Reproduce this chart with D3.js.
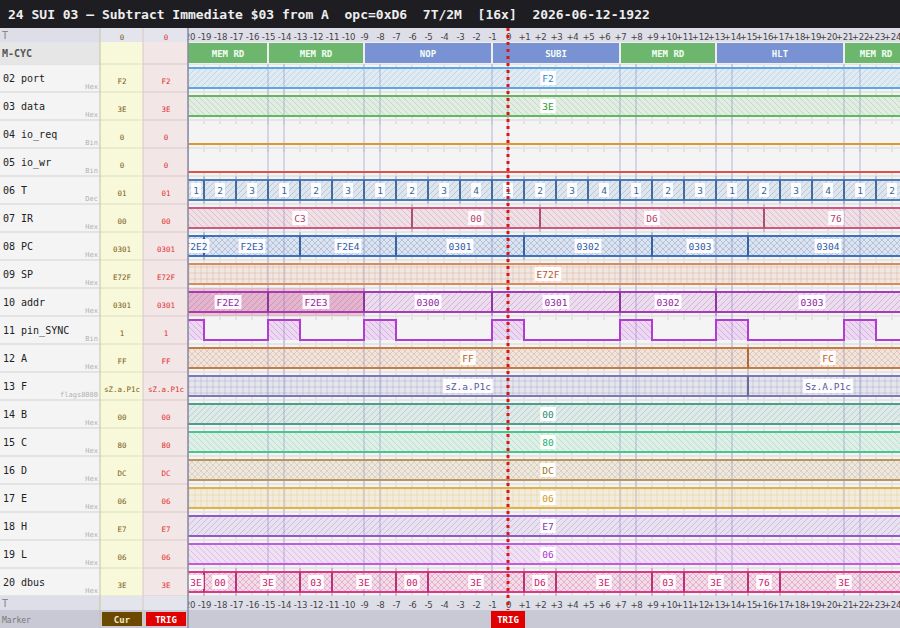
<!DOCTYPE html>
<html>
<head>
<meta charset="utf-8">
<script src="https://cdn.jsdelivr.net/npm/d3@7"></script>
<style>
body { margin: 0; background: #fff; }
svg { display: block; font-family: "DejaVu Sans Mono", monospace; }
</style>
</head>
<body>
<svg id="wave"></svg>
<script>
// ---- data ----
const titleText = '24 SUI 03 \u2014 Subtract Immediate $03 from A  opc=0xD6  7T/2M  [16x]  2026-06-12-1922';
const tickValues = d3.range(-20, 25);
const trigTime = 0;
const curTime = 0;

const mcycStarts = [-21, -15, -9, -1, 7, 13, 21];
const mcycNames = ['MEM RD', 'MEM RD', 'NOP', 'SUBI', 'MEM RD', 'HLT', 'MEM RD'];
const mcycKinds = ['mem', 'mem', 'op', 'op', 'mem', 'op', 'mem'];

const sigNames = ['02 port', '03 data', '04 io_req', '05 io_wr', '06 T', '07 IR', '08 PC', '09 SP', '10 addr',
    '11 pin_SYNC', '12 A', '13 F', '14 B', '15 C', '16 D', '17 E', '18 H', '19 L', '20 dbus'];
const sigFormats = ['Hex', 'Hex', 'Bin', 'Bin', 'Dec', 'Hex', 'Hex', 'Hex', 'Hex', 'Bin', 'Hex', 'flags8080',
    'Hex', 'Hex', 'Hex', 'Hex', 'Hex', 'Hex', 'Hex'];
const curValues = ['F2', '3E', '0', '0', '01', '00', '0301', 'E72F', '0301', '1', 'FF', 'sZ.a.P1c',
    '00', '80', 'DC', '06', 'E7', '06', '3E'];
const trigValues = ['F2', '3E', '0', '0', '01', '00', '0301', 'E72F', '0301', '1', 'FF', 'sZ.a.P1c',
    '00', '80', 'DC', '06', 'E7', '06', '3E'];

// value changes: [time, value]
const portChanges = [[-21, 'F2']];
const dataChanges = [[-21, '3E']];
const ioReqChanges = [[-21, 0]];
const ioWrChanges = [[-21, 0]];
const tStateChanges = [[-21, '1'], [-19, '2'], [-17, '3'], [-15, '1'], [-13, '2'], [-11, '3'], [-9, '1'], [-7, '2'],
    [-5, '3'], [-3, '4'], [-1, '1'], [1, '2'], [3, '3'], [5, '4'], [7, '1'], [9, '2'], [11, '3'], [13, '1'],
    [15, '2'], [17, '3'], [19, '4'], [21, '1'], [23, '2']];
const irChanges = [[-21, 'C3'], [-6, '00'], [2, 'D6'], [16, '76']];
const pcChanges = [[-21, 'F2E2'], [-19, 'F2E3'], [-13, 'F2E4'], [-7, '0301'], [1, '0302'], [9, '0303'], [15, '0304']];
const spChanges = [[-21, 'E72F']];
const addrChanges = [[-21, 'F2E2'], [-15, 'F2E3'], [-9, '0300'], [-1, '0301'], [7, '0302'], [13, '0303']];
const syncChanges = [[-21, 1], [-19, 0], [-15, 1], [-13, 0], [-9, 1], [-7, 0], [-1, 1], [1, 0], [7, 1], [9, 0],
    [13, 1], [15, 0], [21, 1], [23, 0]];
const aChanges = [[-21, 'FF'], [15, 'FC']];
const fChanges = [[-21, 'sZ.a.P1c'], [15, 'Sz.A.P1c']];
const bChanges = [[-21, '00']];
const cChanges = [[-21, '80']];
const dChanges = [[-21, 'DC']];
const eChanges = [[-21, '06']];
const hChanges = [[-21, 'E7']];
const lChanges = [[-21, '06']];
const dbusChanges = [[-21, '3E'], [-19, '00'], [-17, '3E'], [-13, '03'], [-11, '3E'], [-7, '00'], [-5, '3E'],
    [1, 'D6'], [3, '3E'], [9, '03'], [11, '3E'], [15, '76'], [17, '3E']];
const addrHighlight = [-21, -9];

const sigChanges = [portChanges, dataChanges, ioReqChanges, ioWrChanges, tStateChanges, irChanges, pcChanges,
    spChanges, addrChanges, syncChanges, aChanges, fChanges, bChanges, cChanges, dChanges, eChanges,
    hChanges, lChanges, dbusChanges];

// ---- styles ----
const sigColors = ['#5ea8e2', '#62b862', '#e0962e', '#d9534f', '#4d7cb6', '#c85a84', '#4271bb', '#d48c60',
    '#a53cb6', '#b33ad2', '#c87a46', '#7c7ab2', '#4e9c8a', '#48c68c', '#b8965c', '#e0b24c', '#9358c8',
    '#c45ae2', '#d8398a'];
const sigTextColors = ['#2f86d0', '#2a9a2a', '#c07010', '#c03030', '#3a5f96', '#b0406c', '#2f5aa8', '#b0561e',
    '#8f1fa0', '#9a20b8', '#c05c1c', '#5a58a0', '#2e8a74', '#22b070', '#a07420', '#d09a20', '#7a36b8',
    '#b030d4', '#c81a70'];
const sigHatch = ['/', '\\', '', '', '/', '\\', 'x', '+', '/', '\\', 'x', '+', '/', '\\', 'x', '+', '/', '\\', 'x'];

class WaveView {
    constructor(_config) {
        this.config = {
            parentElement: _config.parentElement,
            width: _config.width || 900,
            height: _config.height || 628,
            plotLeft: 188,
            rowTop: 64,
            rowH: 28
        };
        this.initView();
    }

    initView() {
        let vis = this;
        const c = vis.config;
        vis.svg = d3.select(c.parentElement).attr('width', c.width).attr('height', c.height);
        vis.x = d3.scaleLinear().domain([-20, 25]).range([c.plotLeft, c.plotLeft + 45 * 16]);
        vis.defs = vis.svg.append('defs');
        vis.defs.append('clipPath').attr('id', 'plotclip')
            .append('rect').attr('x', c.plotLeft).attr('y', 0).attr('width', c.width - c.plotLeft).attr('height', c.height);
        vis.rowY = i => c.rowTop + i * c.rowH;
        vis.bottomY = vis.rowY(sigNames.length);
    }

    segments(changes) {
        let vis = this;
        const end = vis.x.domain()[1];
        return changes.map((d, i) => ({
            t0: d[0],
            t1: i < changes.length - 1 ? changes[i + 1][0] : end,
            v: d[1]
        }));
    }

    makePattern(i) {
        let vis = this;
        const kind = sigHatch[i];
        const col = sigColors[i];
        const id = 'hatch' + i;
        const s = 6;
        const p = vis.defs.append('pattern').attr('id', id).attr('patternUnits', 'userSpaceOnUse')
            .attr('width', s).attr('height', s);
        let d = '';
        if (kind === '/' || kind === 'x') d += `M0,${s} L${s},0 M-1,1 L1,-1 M${s - 1},${s + 1} L${s + 1},${s - 1} `;
        if (kind === '\\' || kind === 'x') d += `M0,0 L${s},${s} M-1,${s - 1} L1,${s + 1} M${s - 1},-1 L${s + 1},1 `;
        if (kind === '+') d += `M${s / 2},0 V${s} M0,${s / 2} H${s}`;
        p.append('path').attr('d', d).attr('stroke', col).attr('stroke-width', 0.8).attr('stroke-opacity', 0.35).attr('fill', 'none');
        return `url(#${id})`;
    }

    render() {
        let vis = this;
        const c = vis.config;
        const x = vis.x;
        const svg = vis.svg;
        const n = sigNames.length;

        // title bar
        svg.append('rect').attr('width', c.width).attr('height', 28).attr('fill', '#1d1d22');
        svg.append('text').attr('x', 8).attr('y', 19).attr('fill', '#eeeeee')
            .style('font-size', '13px').style('font-weight', 'bold').style('white-space', 'pre')
            .text(titleText);

        // column backgrounds
        const cols = [
            { x0: 0, x1: 100, bg: '#f4f4f4', sep: '#e3e3e3' },
            { x0: 100, x1: 143, bg: '#f8f8da', sep: '#ebebcd' },
            { x0: 143, x1: c.plotLeft, bg: '#f3e6e6', sep: '#e6d8d8' },
            { x0: c.plotLeft, x1: c.width, bg: '#f4f4f4', sep: '#e5e5e5' }
        ];
        cols.forEach(col => {
            svg.append('rect').attr('x', col.x0).attr('y', 42).attr('width', col.x1 - col.x0)
                .attr('height', vis.bottomY - 42).attr('fill', col.bg);
            svg.append('g').selectAll('line').data(d3.range(n + 1)).join('line')
                .attr('x1', col.x0).attr('x2', col.x1)
                .attr('y1', i => vis.rowY(i)).attr('y2', i => vis.rowY(i))
                .attr('stroke', col.sep).attr('stroke-width', 2);
        });
        svg.append('rect').attr('x', 0).attr('y', 42).attr('width', 100).attr('height', 22).attr('fill', '#e6e6e6');
        svg.append('rect').attr('x', c.plotLeft).attr('y', 42).attr('width', c.width - c.plotLeft).attr('height', 22).attr('fill', '#eeeeee');

        // header / footer time rows
        [28, vis.bottomY].forEach(yy => {
            svg.append('rect').attr('x', 0).attr('y', yy).attr('width', c.width).attr('height', 14).attr('fill', '#dedee8');
            svg.append('rect').attr('x', 100).attr('y', yy).attr('width', 88).attr('height', 14).attr('fill', '#e4e4ec');
            svg.append('text').attr('x', 2).attr('y', yy + 11).attr('fill', '#888').style('font-size', '10px').text('T');
        });
        svg.append('text').attr('x', 122).attr('y', 40).attr('text-anchor', 'middle').attr('fill', '#7a5c14')
            .style('font-size', '7.5px').text(curTime);
        svg.append('text').attr('x', 166).attr('y', 40).attr('text-anchor', 'middle').attr('fill', '#e03030')
            .style('font-size', '7.5px').text(trigTime);

        // marker row
        const my = vis.bottomY + 14;
        svg.append('rect').attr('x', 0).attr('y', my).attr('width', c.width).attr('height', c.height - my).attr('fill', '#c9c9d6');
        svg.append('text').attr('x', 2).attr('y', my + 13).attr('fill', '#777').style('font-size', '8px').text('Marker');
        svg.append('rect').attr('x', 102).attr('y', my + 2).attr('width', 40).attr('height', 14).attr('fill', '#6b4a00');
        svg.append('text').attr('x', 122).attr('y', my + 13).attr('text-anchor', 'middle').attr('fill', '#f4e8c8')
            .style('font-size', '9px').style('font-weight', 'bold').text('Cur');
        svg.append('rect').attr('x', 146).attr('y', my + 2).attr('width', 40).attr('height', 14).attr('fill', '#e00000');
        svg.append('text').attr('x', 166).attr('y', my + 13).attr('text-anchor', 'middle').attr('fill', '#fff')
            .style('font-size', '9px').style('font-weight', 'bold').text('TRIG');

        // names, formats, values
        svg.append('text').attr('x', 2).attr('y', 57).attr('fill', '#555').style('font-size', '10px')
            .style('font-weight', 'bold').text('M-CYC');
        const lab = svg.append('g');
        lab.selectAll('text.name').data(sigNames).join('text').attr('class', 'name')
            .attr('x', 3).attr('y', (d, i) => vis.rowY(i) + 18).attr('fill', '#222').style('font-size', '10px').text(d => d);
        lab.selectAll('text.fmt').data(sigFormats).join('text').attr('class', 'fmt')
            .attr('x', 98).attr('y', (d, i) => vis.rowY(i) + 25).attr('text-anchor', 'end').attr('fill', '#b0b0b0')
            .style('font-size', '7px').text(d => d);
        lab.selectAll('text.cur').data(curValues).join('text').attr('class', 'cur')
            .attr('x', 122).attr('y', (d, i) => vis.rowY(i) + 20).attr('text-anchor', 'middle').attr('fill', '#7a5c14')
            .style('font-size', '7.5px').text(d => d);
        lab.selectAll('text.trig').data(trigValues).join('text').attr('class', 'trig')
            .attr('x', 166).attr('y', (d, i) => vis.rowY(i) + 20).attr('text-anchor', 'middle').attr('fill', '#e03030')
            .style('font-size', '7.5px').text(d => d);

        // plot area
        const plot = svg.append('g').attr('clip-path', 'url(#plotclip)');

        // tick marks at each row edge
        const tickG = plot.append('g');
        d3.range(n).forEach(i => {
            const y0 = vis.rowY(i);
            tickG.append('g').selectAll('line').data(tickValues).join('line')
                .attr('x1', d => x(d)).attr('x2', d => x(d)).attr('y1', y0 + 1).attr('y2', y0 + 4)
                .attr('stroke', '#d2d2d2');
            tickG.append('g').selectAll('line').data(tickValues).join('line')
                .attr('x1', d => x(d)).attr('x2', d => x(d)).attr('y1', y0 + 24).attr('y2', y0 + 27)
                .attr('stroke', '#d2d2d2');
        });

        // M-cycle boxes
        const mseg = mcycStarts.map((t, i) => ({
            t0: t, t1: i < mcycStarts.length - 1 ? mcycStarts[i + 1] : x.domain()[1], name: mcycNames[i], kind: mcycKinds[i]
        }));
        plot.append('g').selectAll('rect').data(mseg).join('rect')
            .attr('x', d => x(d.t0) + 1).attr('width', d => x(d.t1) - x(d.t0) - 2)
            .attr('y', 43).attr('height', 20)
            .attr('fill', d => d.kind === 'mem' ? '#6db66d' : '#7892d4');
        plot.append('g').selectAll('text').data(mseg).join('text')
            .attr('x', d => (Math.max(x(d.t0), c.plotLeft) + x(d.t1)) / 2).attr('y', 56.5)
            .attr('text-anchor', 'middle').attr('fill', '#f4fff4')
            .style('font-size', '9px').style('font-weight', 'bold').text(d => d.name);

        // M-cycle boundary lines
        const bounds = mcycStarts.flatMap(t => [t, t + 1]);
        plot.append('g').selectAll('line').data(bounds).join('line')
            .attr('x1', d => x(d)).attr('x2', d => x(d)).attr('y1', c.rowTop).attr('y2', vis.bottomY)
            .attr('stroke', '#8080d0').attr('stroke-opacity', 0.28).attr('stroke-width', 2);

        // addr highlight
        const ai = sigNames.indexOf('10 addr');
        plot.append('rect').attr('x', x(addrHighlight[0])).attr('width', x(addrHighlight[1]) - x(addrHighlight[0]))
            .attr('y', vis.rowY(ai)).attr('height', c.rowH).attr('fill', '#d8506e').attr('fill-opacity', 0.28);

        // signals
        sigNames.forEach((name, i) => {
            const y0 = vis.rowY(i);
            const col = sigColors[i];
            const segs = vis.segments(sigChanges[i]);
            const g = plot.append('g');
            const pat = sigHatch[i] ? vis.makePattern(i) : null;
            if (sigFormats[i] === 'Bin') {
                const yLvl = v => v ? y0 + 4 : y0 + 24;
                const hi = segs.filter(d => d.v);
                g.selectAll('rect.hf').data(hi).join('rect').attr('class', 'hf')
                    .attr('x', d => x(d.t0)).attr('width', d => x(d.t1) - x(d.t0)).attr('y', y0 + 4).attr('height', 20)
                    .attr('fill', col).attr('fill-opacity', 0.14);
                if (pat) {
                    g.selectAll('rect.hp').data(hi).join('rect').attr('class', 'hp')
                        .attr('x', d => x(d.t0)).attr('width', d => x(d.t1) - x(d.t0)).attr('y', y0 + 4).attr('height', 20)
                        .attr('fill', pat);
                }
                const pts = segs.map(d => [d.t0, d.v]).concat([[segs[segs.length - 1].t1, segs[segs.length - 1].v]]);
                const line = d3.line().x(d => x(d[0])).y(d => yLvl(d[1])).curve(d3.curveStepAfter);
                g.append('path').attr('d', line(pts)).attr('fill', 'none').attr('stroke', col).attr('stroke-width', 2);
                return;
            }
            g.selectAll('rect.bf').data(segs).join('rect').attr('class', 'bf')
                .attr('x', d => x(d.t0)).attr('width', d => x(d.t1) - x(d.t0)).attr('y', y0 + 4).attr('height', 20)
                .attr('fill', col).attr('fill-opacity', 0.12);
            g.selectAll('rect.bp').data(segs).join('rect').attr('class', 'bp')
                .attr('x', d => x(d.t0)).attr('width', d => x(d.t1) - x(d.t0)).attr('y', y0 + 4).attr('height', 20)
                .attr('fill', pat);
            [y0 + 4, y0 + 24].forEach(yy => {
                g.append('line').attr('x1', x(segs[0].t0)).attr('x2', x(segs[segs.length - 1].t1))
                    .attr('y1', yy).attr('y2', yy).attr('stroke', col).attr('stroke-width', 2);
            });
            const edges = segs.slice(1);
            g.selectAll('line.ext').data(edges).join('line').attr('class', 'ext')
                .attr('x1', d => x(d.t0)).attr('x2', d => x(d.t0)).attr('y1', y0).attr('y2', y0 + 28)
                .attr('stroke', col).attr('stroke-opacity', 0.3).attr('stroke-width', 2);
            g.selectAll('line.edge').data(edges).join('line').attr('class', 'edge')
                .attr('x1', d => x(d.t0)).attr('x2', d => x(d.t0)).attr('y1', y0 + 4).attr('y2', y0 + 24)
                .attr('stroke', d3.color(col).darker(0.4)).attr('stroke-width', 2);
            const lg = g.selectAll('g.lbl').data(segs).join('g').attr('class', 'lbl')
                .attr('transform', d => `translate(${(Math.max(x(d.t0), c.plotLeft) + x(d.t1)) / 2},${y0 + 14})`);
            const txt = lg.append('text').attr('text-anchor', 'middle').attr('y', 3.5)
                .attr('fill', sigTextColors[i]).style('font-size', '9.5px').text(d => d.v);
            txt.each(function () {
                const w = this.getComputedTextLength();
                d3.select(this.parentNode).insert('rect', 'text')
                    .attr('x', -w / 2 - 2).attr('y', -7).attr('width', w + 4).attr('height', 14)
                    .attr('fill', '#ffffff').attr('fill-opacity', 0.92);
            });
        });

        // time axes
        const fmt = d => d > 0 ? '+' + d : String(d);
        const axisTop = d3.axisBottom(x).tickValues(tickValues).tickFormat(fmt).tickSize(0).tickPadding(2);
        [31, vis.bottomY + 3].forEach(yy => {
            const ag = plot.append('g').attr('transform', `translate(0,${yy})`).call(axisTop);
            ag.select('.domain').remove();
            ag.selectAll('text').attr('fill', '#444').style('font-family', '"DejaVu Sans Condensed","DejaVu Sans",sans-serif')
                .style('font-size', '9.5px').style('letter-spacing', '-0.2px');
        });

        // trigger marker
        svg.append('line').attr('x1', x(trigTime)).attr('x2', x(trigTime)).attr('y1', 28).attr('y2', vis.bottomY + 14)
            .attr('stroke', '#e01414').attr('stroke-width', 3).attr('stroke-dasharray', '3,4');
        svg.append('rect').attr('x', x(trigTime) - 17).attr('y', my + 1).attr('width', 34).attr('height', c.height - my - 1)
            .attr('fill', '#e00000');
        svg.append('text').attr('x', x(trigTime)).attr('y', my + 13).attr('text-anchor', 'middle').attr('fill', '#fff')
            .style('font-size', '9px').style('font-weight', 'bold').text('TRIG');

        // column borders
        [[100, '#c4c4a4'], [143, '#d8c8c8'], [c.plotLeft, '#8a8aa2']].forEach(b => {
            svg.append('line').attr('x1', b[0]).attr('x2', b[0]).attr('y1', 28).attr('y2', c.height)
                .attr('stroke', b[1]).attr('stroke-width', b[0] === c.plotLeft ? 1.5 : 1);
        });
    }
}

const view = new WaveView({ parentElement: '#wave', width: 900, height: 628 });
view.render();
</script>
</body>
</html>
